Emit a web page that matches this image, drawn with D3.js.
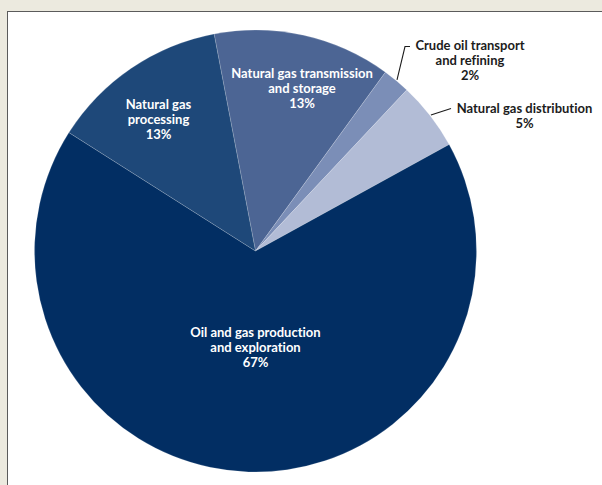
<!DOCTYPE html>
<html>
<head>
<meta charset="utf-8">
<script src="https://cdn.jsdelivr.net/npm/d3@7"></script>
<style>
  html, body { margin: 0; padding: 0; background: #ECEADF; }
  svg { display: block; }
  text { font-family: Lato, "Open Sans", sans-serif; font-weight: 700; font-variant-ligatures: none; }
</style>
</head>
<body>
<svg id="chart" width="602" height="485"></svg>
<script>
// Methane emission sources in the natural gas and oil sector (share of total, %)
const categories = [
  "Natural gas transmission and storage",
  "Crude oil transport and refining",
  "Natural gas distribution",
  "Oil and gas production and exploration",
  "Natural gas processing"
];
const shares = [13, 2, 5, 67, 13];
const labelLines = [
  ["Natural gas transmission", "and storage"],
  ["Crude oil transport", "and refining"],
  ["Natural gas distribution"],
  ["Oil and gas production", "and exploration"],
  ["Natural gas", "processing"]
];
const sliceColors = ["#4C6594", "#7B8EB7", "#B2BCD6", "#022E63", "#1E4879"];

const svg = d3.select("#chart");

// framed white panel
svg.append("rect")
  .attr("x", 7.5).attr("y", 11.5)
  .attr("width", 610).attr("height", 490)
  .attr("fill", "#ffffff")
  .attr("stroke", "#5b5b5b")
  .attr("stroke-width", 1);

const cx = 255.5, cy = 251, radius = 221;
const start = -10.8 * Math.PI / 180;

const pie = d3.pie().sort(null).value(d => d)
  .startAngle(start).endAngle(start + 2 * Math.PI);
const arcs = pie(shares);
const arc = d3.arc().innerRadius(0).outerRadius(radius);

const g = svg.append("g").attr("transform", `translate(${cx},${cy})`);

g.selectAll("path.slice")
  .data(arcs)
  .join("path")
  .attr("class", "slice")
  .attr("d", arc)
  .attr("fill", (d, i) => sliceColors[i])
  .attr("stroke", "rgba(255,255,255,0.28)")
  .attr("stroke-width", 0.6);

// label placement: inside slices (white) or outside with a leader (dark)
const placement = [
  { x: 302, y: 78, inside: true },
  { x: 470, y: 50, inside: false, leader: [[405, 46.5], [410, 46.5]] },
  { x: 524.5, y: 112.5, inside: false, leader: [[451, 108.5]] },
  { x: 255.5, y: 337, inside: true },
  { x: 158.5, y: 108.5, inside: true }
];
const lineH = 15.2;

arcs.forEach((a, i) => {
  const p = placement[i];
  const lines = labelLines[i].concat([shares[i] + "%"]);
  const t = svg.append("text")
    .attr("text-anchor", "middle")
    .attr("font-size", 13)
    .attr("fill", p.inside ? "#ffffff" : "#1c1c1c");
  lines.forEach((s, k) => {
    t.append("tspan").attr("x", p.x).attr("y", p.y + k * lineH).text(s);
  });
  if (p.leader) {
    const mid = (a.startAngle + a.endAngle) / 2;
    const r0 = radius + 1;
    const startPt = [cx + r0 * Math.sin(mid), cy - r0 * Math.cos(mid)];
    svg.append("path")
      .attr("d", d3.line()([startPt].concat(p.leader)))
      .attr("fill", "none")
      .attr("stroke", "#1c1c1c")
      .attr("stroke-width", 1.1);
  }
});
</script>
</body>
</html>
